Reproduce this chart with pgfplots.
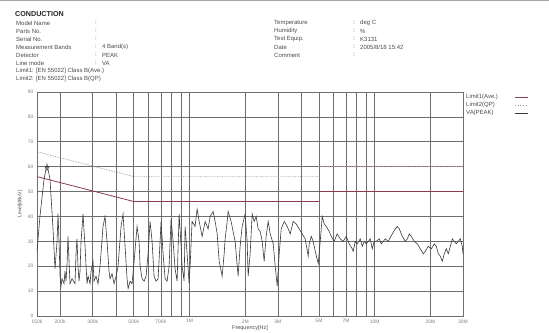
\documentclass[border=0pt]{standalone}
\usepackage{fontspec}
\setmainfont{Liberation Sans}
\usepackage{pgfplots}
\pgfplotsset{compat=1.18}
\definecolor{gridc}{HTML}{6E6E6E}
\definecolor{lim1}{HTML}{8E3B4C}
\definecolor{lim2}{HTML}{A88A90}
\definecolor{trace}{HTML}{3A3A3A}
\definecolor{txt}{HTML}{4A4A4A}
\pgfplotstableread{
f db
0.1500 26
0.1556 40
0.1637 55
0.1699 61
0.1763 55
0.1831 35
0.1877 19
0.1925 30
0.1949 41
0.1973 30
0.1998 16
0.2022 12
0.2047 15
0.2099 13
0.2125 18
0.2152 14
0.2180 21
0.2206 32
0.2234 22
0.2262 13
0.2319 15
0.2407 13
0.2437 25
0.2467 31
0.2498 20
0.2529 14
0.2562 18
0.2594 30
0.2660 41
0.2693 34
0.2727 28
0.2761 20
0.2796 13
0.2831 16
0.2901 13
0.2937 18
0.3010 22
0.3048 14
0.3126 16
0.3205 13
0.3285 20
0.3410 36
0.3496 40
0.3584 30
0.3675 18
0.3722 15
0.3815 17
0.3911 13
0.4010 16
0.4111 20
0.4267 36
0.4375 41
0.4485 28
0.4599 15
0.4657 11
0.4775 14
0.4895 13
0.5018 22
0.5208 36
0.5339 30
0.5406 20
0.5543 15
0.5682 14
0.5825 16
0.5972 25
0.6122 38
0.6276 30
0.6433 16
0.6597 14
0.6763 15
0.6933 30
0.7020 38
0.7198 25
0.7379 15
0.7565 14
0.7756 20
0.7951 39
0.8151 30
0.8356 19
0.8568 14
0.8784 41
0.9005 28
0.9118 20
0.9347 14
0.9464 36
0.9703 25
0.9948 13
1.007 20
1.032 38
1.071 36
1.099 43
1.127 38
1.170 32
1.214 38
1.260 35
1.292 40
1.341 42
1.375 38
1.410 33
1.446 22
1.500 16
1.538 25
1.557 31
1.597 38
1.617 42
1.677 38
1.719 34
1.763 30
1.830 16
1.876 28
1.924 36
1.997 41
2.047 30
2.073 16
2.125 25
2.179 41
2.234 38
2.290 40
2.348 35
2.407 34
2.468 30
2.530 22
2.594 32
2.659 38
2.727 33
2.831 29
2.902 20
2.975 12
3.050 25
3.127 35
3.246 38
3.369 36
3.497 33
3.630 38
3.768 37
3.911 35
4.060 33
4.214 31
4.375 24
4.430 29
4.542 32
4.656 30
4.774 26
4.956 21
5.080 30
5.208 40
5.340 37
5.475 36
5.682 34
5.825 32
6.047 30
6.275 33
6.515 31
6.763 30
7.021 32
7.287 29
7.565 27
7.660 26
7.853 30
8.050 29
8.357 31
8.568 28
8.784 30
9.005 29
9.232 30
9.465 31
9.703 27
9.948 30
10.20 30
10.59 31
10.85 29
11.13 30
11.41 31
11.84 30
12.45 33
12.92 35
13.24 36
13.58 35
14.10 32
14.63 30
15.00 31
15.38 33
15.76 32
16.37 30
16.99 29
17.64 27
18.30 25
18.76 26
19.48 28
20.22 27
21.00 29
21.53 28
22.06 25
22.62 24
23.19 22
23.77 25
24.37 27
24.98 25
25.62 28
26.27 31
26.93 30
27.61 29
28.31 30
29.01 31
29.74 28
30.00 25
}\trace
\begin{document}
\begin{tikzpicture}[x=1bp,y=1bp]
\path[use as bounding box] (0,0) rectangle (549,332);
\fill[gray!70] (0,330.5) rectangle (549,332);
\begin{scope}[every node/.style={anchor=west,inner sep=0pt,text=txt,font=\fontsize{6}{7}\selectfont}]
\node[font=\bfseries\fontsize{7.2}{8}\selectfont,text=black!85] at (15,318) {CONDUCTION};
\node at (16,309) {Model Name};        \node at (95,309) {:};
\node at (16,301) {Parts No.};         \node at (95,301) {:};
\node at (16,293) {Serial No.};        \node at (95,293) {:};
\node at (16,285) {Measurement Bands}; \node at (95,285) {:}; \node at (102,285) {4 Band(s)};
\node at (16,277) {Detector};          \node at (95,277) {:}; \node at (102,277) {PEAK};
\node at (16,269) {Line mode};         \node at (95,269) {:}; \node at (102,269) {VA};
\node at (16,261) {Limit1: [EN 55022] Class B(Ave.)};
\node at (16,253) {Limit2: [EN 55022] Class B(QP)};
\node at (274,309) {Temperature};  \node at (353,309) {:}; \node at (360,309) {deg C};
\node at (274,301) {Humidity};     \node at (353,301) {:}; \node at (360,301) {\%};
\node at (274,293) {Test Equip.};  \node at (353,293) {:}; \node at (360,293) {K3131};
\node at (274,285) {Date};         \node at (353,285) {:}; \node at (360,285) {2005/8/18 15:42};
\node at (274,277) {Comment};      \node at (353,277) {:};
\node at (466,235) {Limit1(Ave.)};
\node at (466,227) {Limit2(QP)};
\node at (466,219) {VA(PEAK)};
\end{scope}
\draw[lim1,line width=0.7bp] (515,235) -- (528,235);
\draw[lim2,line width=0.7bp,dotted] (515,227) -- (528,227);
\draw[trace,line width=0.7bp] (515,219) -- (528,219);
\begin{axis}[at={(37bp,16bp)},anchor=south west,scale only axis,
  width=426bp,height=224bp,
  xmode=log,xmin=0.15,xmax=30,ymin=0,ymax=90,
  ytick={0,10,...,90},
  xtick={0.15,0.2,0.3,0.5,0.7,1,2,3,5,7,10,20,30},
  xticklabels={150k,200k,300k,500k,700k,1M,2M,3M,5M,7M,10M,20M,30M},
  minor xtick={0.4,0.6,0.8,0.9,4,6,8,9},
  grid=both,
  major grid style={gridc,line width=0.7bp},
  minor grid style={gridc,line width=0.7bp},
  axis line style={gridc,line width=0.8bp},
  major tick length=0pt,minor tick length=0pt,
  /pgf/number format/assume math mode=true,
  tick label style={font=\fontsize{5}{6}\selectfont,text=gray},
]
\addplot[lim2,line width=0.7bp,densely dotted] coordinates {(0.15,66)(0.5,56)(5,56)};
\addplot[lim2,line width=0.7bp,densely dotted] coordinates {(5,60)(30,60)};
\addplot[lim1,line width=0.8bp] coordinates {(0.15,56)(0.5,46)(5,46)};
\addplot[lim1,line width=0.8bp] coordinates {(5,50)(30,50)};
\addplot[trace,line width=0.6bp] table[x=f,y=db] {\trace};
\addplot[only marks,mark=triangle,mark size=2.4bp,mark options={rotate=180,draw=trace,line width=0.5bp}] coordinates {(0.1699,59.5)};
\end{axis}
\node[rotate=90,text=txt,font=\fontsize{5}{6}\selectfont] at (20,128) {Level[dBuV]};
\node[text=txt,font=\fontsize{5.5}{6}\selectfont] at (250,4) {Frequency[Hz]};
\end{tikzpicture}
\end{document}
